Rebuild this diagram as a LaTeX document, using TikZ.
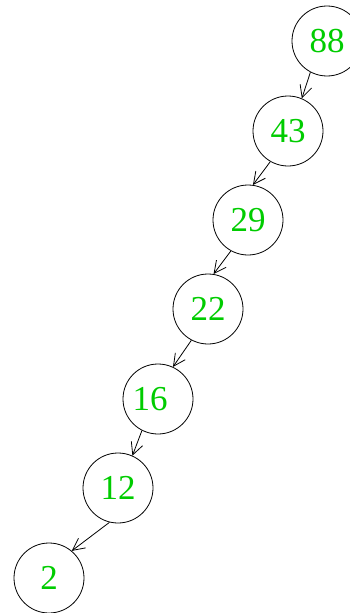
\documentclass[tikz,border=0pt]{standalone}
\usepackage{fontspec}
\setmainfont{Liberation Serif}
\usetikzlibrary{arrows.meta}
\tikzset{key/.style={draw,circle,minimum size=70pt,inner sep=0pt,text=green!80!black,font=\fontsize{35}{40}\selectfont},
  link/.style={-{Straight Barb[length=12pt,width=12pt]}}}
\begin{document}
\begin{tikzpicture}[x=1pt,y=-1pt,line width=.8pt]
\useasboundingbox (0,0) rectangle (349,613);
\node[key] (n88) at (327,41) {88}; \node[key] (n43) at (288,131) {43}; \node[key] (n29) at (248,220) {29};
\node[key] (n22) at (208,309) {22}; \node[key] (n16) at (158,399) {16\kern16pt}; \node[key] (n12) at (118,488) {12};
\node[key] (n2) at (49,578) {2};
\foreach \a/\b in {n88.242/n43.67,n43.240/n29.82,n29.241/n22.81,n22.242/n16.65,n16.243/n12.66,n12.256/n2.50} \draw[link] (\a)--(\b);
\end{tikzpicture}
\end{document}
